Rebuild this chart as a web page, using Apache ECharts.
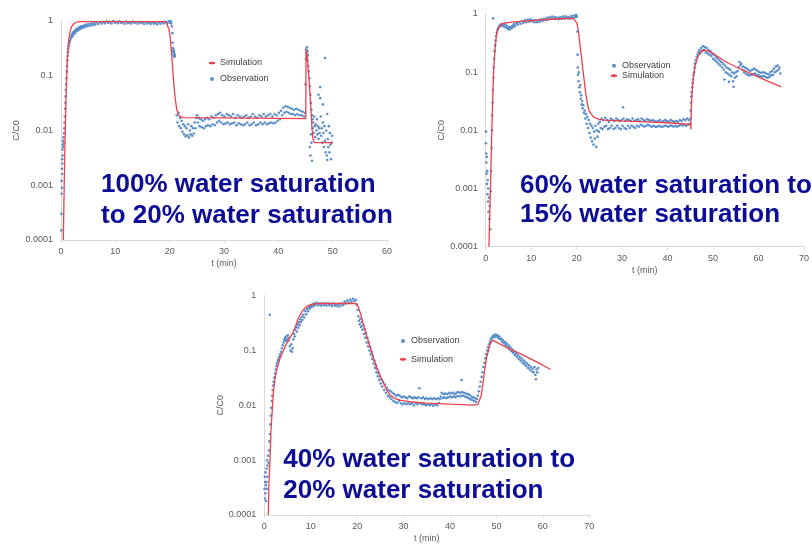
<!DOCTYPE html>
<html>
<head>
<meta charset="utf-8">
<script src="https://cdn.jsdelivr.net/npm/echarts@6/dist/echarts.min.js"></script>
<style>html,body{margin:0;padding:0;background:#fff}#c{width:812px;height:545px}</style>
</head>
<body>
<div id="c"></div>
<script>
// ---------- data ----------
var yTickLabels = ['0.0001', '0.001', '0.01', '0.1', '1'];
var xMax = [60, 70, 70];
var titles = [
  ['100% water saturation', 'to 20% water saturation'],
  ['60% water saturation to', '15% water saturation'],
  ['40% water saturation to', '20% water saturation']
];
var legendOrders = [['Simulation', 'Observation'], ['Observation', 'Simulation'], ['Observation', 'Simulation']];

var sim1 = [[0.43,0.0001],[0.6,0.0012],[0.74,0.006],[0.9,0.03],[1.04,0.096],[1.2,0.22],[1.35,0.4],[1.6,0.6],[1.96,0.79],[2.4,0.9],[2.9,0.95],[3.5,0.97],[10,0.97],[19.3,0.97],[19.6,0.9],[19.9,0.7],[20.1,0.5],[20.4,0.22],[20.7,0.084],[21.0,0.04],[21.3,0.024],[21.6,0.02],[21.9,0.018],[22.5,0.0172],[30,0.017],[45.05,0.0165],[45.1,0.3],[45.4,0.18],[45.7,0.07],[46.0,0.025],[46.2,0.011],[46.4,0.0067],[46.7,0.006],[50,0.006]];

var obs1 = [[0.05,0.00015],[0.08,0.0003],[0.1,0.0007],[0.12,0.0012],[0.15,0.0009],[0.18,0.002],[0.2,0.0016],[0.22,0.003],[0.25,0.0025],[0.28,0.0045],[0.3,0.0035],[0.33,0.0055],[0.36,0.0065],[0.4,0.005],[0.45,0.0075],[0.5,0.006],[0.55,0.009],
[0.6,0.011],[0.65,0.014],[0.7,0.018],[0.75,0.025],[0.8,0.032],[0.85,0.042],[0.9,0.055],[0.95,0.07],[1.0,0.09],[1.05,0.12],[1.1,0.15],[1.15,0.19],[1.2,0.23],[1.28,0.27],[1.35,0.31],[1.45,0.35],[1.55,0.39],[1.65,0.43],[1.75,0.47],[1.85,0.5],[1.95,0.54],[2.05,0.58],[2.1,0.52],[2.25,0.62],[2.35,0.57],[2.5,0.66],[2.6,0.61],[2.75,0.7],[2.85,0.65],[3.0,0.73],[3.15,0.68],[3.3,0.76],[3.45,0.71],[3.6,0.79],[3.75,0.74],[3.9,0.81],[4.05,0.76],[4.25,0.83],[4.45,0.78],[4.65,0.86],[4.85,0.8],[5.05,0.88],[5.3,0.82],[5.55,0.9],[5.8,0.84],[6.05,0.92],[6.3,0.86],[6.6,0.94],[6.9,0.88],[7.2,0.96],[7.5,0.9],
[7.8,0.97],[8.1,0.91],[8.4,0.99],[8.7,0.92],[9.0,0.97],[9.3,0.9],[9.6,1.0],[9.9,0.93],[10.2,0.97],[10.5,0.91],[10.8,0.99],[11.1,0.92],[11.4,0.96],[11.7,0.89],[12.0,0.98],[12.3,0.91],[12.6,0.95],[12.9,0.9],[13.2,0.98],[13.5,0.92],[13.8,0.96],[14.1,0.89],[14.4,0.97],[14.7,0.91],[15.0,0.95],[15.3,0.88],[15.6,0.96],[15.9,0.9],[16.2,0.94],[16.5,0.88],[16.8,0.95],[17.1,0.89],[17.4,0.93],[17.7,0.87],[18.0,0.95],[18.3,0.89],[18.6,0.96],[18.9,0.9],[19.2,0.97],[19.5,0.91],[19.8,0.99],[20.0,0.93],[20.2,1.0],[20.3,0.9],
[20.4,0.8],[20.5,0.6],[20.55,0.4],[20.6,0.32],[20.65,0.27],[20.7,0.3],[20.75,0.24],[20.8,0.28],[20.85,0.22],[20.9,0.25],[20.95,0.23],
[21.3,0.019],[21.45,0.014],[21.6,0.021],[21.75,0.012],[21.9,0.017],[22.05,0.011],[22.2,0.015],[22.35,0.0095],[22.5,0.013],[22.65,0.0085],[22.8,0.012],[22.95,0.0078],[23.1,0.011],[23.25,0.0082],[23.4,0.013],[23.55,0.0075],[23.7,0.01],[23.85,0.0085],[24.0,0.012],[24.15,0.008],[24.3,0.011],[24.45,0.0088],[24.6,0.014],[24.75,0.011],[24.9,0.017],[25.05,0.019],[25.2,0.014],[25.35,0.017],[25.5,0.012],[25.7,0.016],[25.9,0.0115],[26.1,0.015],[26.3,0.011],[26.5,0.016],[26.7,0.012],[26.9,0.017],[27.1,0.0125],[27.3,0.016],[27.5,0.012],[27.7,0.018],[27.9,0.013],[28.1,0.017],[28.3,0.0125],[28.5,0.019],[28.7,0.014],[28.9,0.02],[29.1,0.015],[29.3,0.021],[29.5,0.014],[29.7,0.019],[29.9,0.013],[30.1,0.018],[30.3,0.0135],[30.5,0.02],[30.7,0.014],[30.9,0.019],[31.1,0.013],[31.3,0.018],[31.5,0.0135],[31.7,0.02],[31.9,0.014],[32.1,0.017],[32.3,0.0125],[32.5,0.019],[32.7,0.0135],[32.9,0.018],[33.1,0.013],[33.3,0.017],[33.5,0.0125],[33.7,0.018],[33.9,0.013],[34.1,0.019],[34.3,0.014],[34.5,0.017],[34.7,0.0125],[34.9,0.018],[35.1,0.013],[35.3,0.02],[35.5,0.014],[35.7,0.018],[35.9,0.0125],[36.1,0.017],[36.3,0.013],[36.5,0.019],[36.7,0.014],[36.9,0.018],[37.1,0.013],[37.3,0.02],[37.5,0.014],[37.7,0.018],[37.9,0.013],[38.1,0.019],[38.3,0.0135],[38.5,0.02],[38.7,0.014],[38.9,0.018],[39.1,0.0135],[39.3,0.02],[39.5,0.014],[39.7,0.019],[39.9,0.015],[40.1,0.021],[40.3,0.016],[40.5,0.023],[40.7,0.019],[40.9,0.026],[41.1,0.021],[41.3,0.028],[41.5,0.022],[41.7,0.027],[41.9,0.021],[42.1,0.026],[42.3,0.02],[42.5,0.025],[42.7,0.02],[42.9,0.024],[43.1,0.019],[43.3,0.025],[43.5,0.02],[43.7,0.024],[43.9,0.019],[44.1,0.023],[44.3,0.019],[44.5,0.022],[44.7,0.018],[44.9,0.021],
[45.0,0.07],[45.1,0.2],[45.15,0.3],[45.2,0.26],[45.25,0.33],[45.3,0.22],[45.35,0.28],[45.4,0.19],[45.45,0.24],[45.5,0.15],[45.6,0.12],[45.7,0.09],[45.8,0.065],[45.9,0.045],[46.0,0.032],[46.1,0.024],[46.2,0.019],[46.3,0.016],
[45.8,0.005],[45.9,0.0035],[46.0,0.0085],[46.1,0.006],[46.2,0.0028],[46.3,0.011],[46.4,0.014],[46.5,0.009],[46.6,0.018],[46.7,0.012],[46.8,0.0075],[46.9,0.013],[47.0,0.01],[47.1,0.016],[47.2,0.0085],[47.3,0.012],[47.4,0.007],[47.5,0.011],[47.6,0.009],[47.7,0.039],[47.7,0.062],[47.8,0.018],[47.9,0.008],[48.0,0.011],[48.1,0.006],[48.2,0.014],[48.3,0.009],[48.4,0.005],[48.5,0.012],[48.6,0.21],[48.6,0.0065],[48.7,0.004],[48.8,0.01],[48.9,0.0035],[49.0,0.0029],[49.1,0.007],[49.2,0.005],[49.3,0.012],[49.4,0.004],[49.5,0.009],[49.6,0.0055],[49.7,0.003],[49.8,0.006],[49.9,0.008],[47.4,0.045],[48.2,0.03],[49.0,0.02]];

var sim2 = [[0.71,0.0001],[0.9,0.0004],[1.07,0.0011],[1.25,0.005],[1.43,0.017],[1.6,0.05],[1.79,0.124],[2.0,0.22],[2.36,0.44],[2.8,0.58],[3.43,0.67],[4.2,0.7],[4.86,0.71],[7,0.74],[10,0.77],[15,0.82],[19.3,0.84],[19.7,0.82],[20.1,0.69],[20.4,0.5],[20.7,0.31],[21.0,0.2],[21.3,0.124],[21.6,0.08],[22.0,0.043],[22.4,0.028],[22.7,0.022],[23.2,0.019],[23.8,0.0168],[25,0.0155],[26,0.015],[30,0.0145],[35,0.014],[40,0.0135],[45,0.0127],[45.1,0.0105],[45.2,0.02],[45.3,0.033],[45.5,0.06],[45.7,0.084],[46.0,0.12],[46.4,0.16],[47.0,0.21],[47.7,0.24],[48.3,0.238],[49,0.23],[50,0.21],[51,0.185],[52,0.165],[53,0.148],[55,0.124],[57,0.105],[60,0.082],[62,0.07],[65,0.056]];

var obs2 = [[0.05,0.006],[0.08,0.0095],[0.12,0.004],[0.15,0.0028],[0.2,0.0018],[0.25,0.0035],[0.3,0.0012],[0.35,0.002],[0.4,0.0008],[0.45,0.0014],[0.5,0.0006],[0.55,0.001],[0.6,0.0004],[0.7,0.0007],[0.8,0.0003],[0.9,0.0005],[1.0,0.0002],[1.1,0.0009],[1.2,0.002],[1.3,0.005],[1.38,0.01],[1.45,0.018],[1.52,0.03],[1.6,0.05],[1.64,0.84],
[1.7,0.08],[1.78,0.12],[1.86,0.17],[1.95,0.23],[2.05,0.29],[2.15,0.35],[2.3,0.42],[2.45,0.48],[2.6,0.53],[2.75,0.57],[2.9,0.6],[3.1,0.63],[3.3,0.66],[3.5,0.62],[3.7,0.68],[3.9,0.64],[4.1,0.6],[4.3,0.66],[4.5,0.58],[4.7,0.62],[4.9,0.55],[5.1,0.59],[5.3,0.54],[5.5,0.6],[5.7,0.57],[5.9,0.63],[6.1,0.6],[6.3,0.67],[6.5,0.63],[6.8,0.7],[7.1,0.66],[7.4,0.73],[7.7,0.68],[8.0,0.76],[8.3,0.7],[8.6,0.78],[8.9,0.72],[9.2,0.8],[9.5,0.74],[9.8,0.81],[10.1,0.75],[10.4,0.79],[10.7,0.72],[11.0,0.78],[11.3,0.72],[11.6,0.79],[11.9,0.74],[12.2,0.81],[12.5,0.76],[12.8,0.83],[13.1,0.78],[13.4,0.86],[13.7,0.8],[14.0,0.88],[14.3,0.82],[14.6,0.9],[14.9,0.83],[15.2,0.89],[15.5,0.82],[15.8,0.87],[16.1,0.81],[16.4,0.88],[16.7,0.83],[17.0,0.9],[17.3,0.84],[17.6,0.91],[17.9,0.85],[18.2,0.89],[18.5,0.84],[18.8,0.92],[19.1,0.86],[19.4,0.94],[19.7,0.88],[19.9,0.96],[20.05,0.9],
[20.15,0.5],[20.2,0.2],[20.25,0.12],[20.3,0.09],[20.4,0.07],[20.5,0.1],[20.6,0.055],[20.7,0.045],[20.8,0.06],[20.9,0.035],[21.0,0.04],[21.1,0.028],[21.2,0.032],[21.3,0.024],[21.45,0.027],[21.6,0.02],[21.75,0.022],[21.9,0.016],[22.05,0.019],[22.2,0.013],[22.35,0.017],[22.5,0.011],[22.65,0.015],[22.8,0.009],[22.95,0.013],[23.1,0.0075],[23.25,0.012],[23.4,0.0065],[23.55,0.011],[23.7,0.0057],[23.85,0.0095],[24.0,0.0072],[24.15,0.012],[24.3,0.0052],[24.45,0.01],[24.6,0.0078],[24.75,0.013],
[24.9,0.0095],[25.1,0.014],[25.3,0.011],[25.5,0.016],[25.7,0.0105],[25.9,0.015],[26.1,0.0115],[26.3,0.0165],[26.5,0.012],[26.7,0.015],[26.9,0.0105],[27.1,0.014],[27.3,0.011],[27.5,0.016],[27.7,0.012],[27.9,0.015],[28.1,0.0105],[28.3,0.0145],[28.5,0.011],[28.7,0.016],[28.9,0.012],[29.1,0.015],[29.3,0.011],[29.5,0.0145],[29.7,0.0105],[29.9,0.015],[30.1,0.012],[30.2,0.025],[30.3,0.016],[30.5,0.011],[30.7,0.0145],[30.9,0.0105],[31.1,0.0155],[31.3,0.012],[31.5,0.015],[31.7,0.011],[31.9,0.0145],[32.1,0.012],[32.3,0.016],[32.5,0.0115],[32.7,0.0145],[32.9,0.011],[33.1,0.015],[33.3,0.012],[33.5,0.0155],[33.7,0.0115],[33.9,0.0145],[34.1,0.0125],[34.3,0.016],[34.5,0.012],[34.7,0.015],[34.9,0.0115],[35.1,0.0145],[35.3,0.012],[35.5,0.0155],[35.7,0.0125],[35.9,0.015],[36.1,0.012],[36.3,0.0145],[36.5,0.0115],[36.7,0.015],[36.9,0.012],[37.1,0.0145],[37.3,0.0115],[37.5,0.014],[37.7,0.0115],[37.9,0.0145],[38.1,0.012],[38.3,0.015],[38.5,0.0115],[38.7,0.014],[38.9,0.0115],[39.1,0.0145],[39.3,0.012],[39.5,0.015],[39.7,0.012],[39.9,0.0145],[40.1,0.0115],[40.3,0.014],[40.5,0.012],[40.7,0.015],[40.9,0.012],[41.1,0.0145],[41.3,0.0115],[41.5,0.014],[41.7,0.012],[41.9,0.0145],[42.1,0.0115],[42.3,0.014],[42.5,0.012],[42.7,0.015],[42.9,0.0125],[43.1,0.0145],[43.3,0.012],[43.5,0.0155],[43.7,0.0125],[43.9,0.015],[44.1,0.012],[44.3,0.016],[44.5,0.0125],[44.7,0.015],[44.9,0.013],
[45.05,0.016],[45.1,0.022],[45.15,0.03],[45.2,0.038],[45.3,0.045],[45.4,0.055],[45.5,0.065],[45.6,0.075],[45.7,0.09],[45.8,0.1],[45.9,0.12],[46.0,0.14],[46.2,0.16],[46.4,0.18],[46.6,0.2],[46.8,0.22],[47.0,0.24],[47.2,0.21],[47.4,0.26],[47.6,0.23],[47.8,0.28],[48.0,0.24],[48.2,0.27],[48.4,0.22],[48.6,0.26],[48.8,0.21],[49.0,0.24],[49.2,0.2],[49.4,0.23],[49.6,0.19],[49.8,0.21],[50.0,0.17],[50.2,0.2],[50.4,0.16],[50.6,0.18],[50.8,0.15],[51.0,0.17],[51.2,0.14],[51.4,0.16],[51.6,0.13],[51.8,0.15],[52.0,0.12],[52.2,0.14],[52.4,0.11],[52.5,0.075],[52.6,0.13],[52.8,0.1],[53.0,0.12],[53.2,0.095],[53.4,0.115],[53.5,0.068],[53.6,0.09],[53.8,0.11],[54.0,0.085],[54.2,0.1],[54.4,0.07],[54.5,0.056],[54.6,0.095],[54.8,0.08],[55.0,0.1],[55.2,0.085],[55.4,0.105],[55.6,0.12],[55.8,0.15],[56.0,0.13],[56.2,0.14],[56.4,0.11],[56.6,0.125],[56.8,0.1],[57.0,0.12],[57.2,0.095],[57.4,0.115],[57.6,0.09],[57.8,0.11],[58.0,0.088],[58.2,0.105],[58.4,0.09],[58.6,0.11],[58.8,0.092],[59.0,0.115],[59.2,0.095],[59.4,0.11],[59.6,0.09],[59.8,0.105],[60.0,0.088],[60.2,0.1],[60.4,0.085],[60.6,0.098],[60.8,0.084],[61.0,0.1],[61.2,0.086],[61.4,0.098],[61.6,0.082],[61.8,0.094],[62.0,0.08],[62.2,0.092],[62.4,0.083],[62.6,0.1],[62.8,0.088],[63.0,0.105],[63.2,0.09],[63.4,0.115],[63.6,0.1],[63.8,0.125],[64.0,0.105],[64.2,0.13],[64.4,0.11],[64.6,0.12],[64.8,0.095]];

var sim3 = [[0.86,0.0001],[1.0,0.0004],[1.23,0.001],[1.4,0.003],[1.58,0.0054],[1.94,0.0165],[2.3,0.03],[2.66,0.044],[3.38,0.072],[4.1,0.1],[4.83,0.135],[5.5,0.17],[6.25,0.22],[6.8,0.29],[7.32,0.387],[8.0,0.49],[8.4,0.55],[9.0,0.62],[9.8,0.68],[11,0.71],[12,0.725],[16,0.72],[19.6,0.72],[20.25,0.63],[20.8,0.45],[21.3,0.31],[22.0,0.19],[22.8,0.117],[23.5,0.075],[24.2,0.05],[25.0,0.034],[25.7,0.025],[26.4,0.019],[27.1,0.0154],[28,0.0135],[29.2,0.0125],[32,0.0115],[35,0.011],[40,0.0105],[45,0.0101],[46,0.0104],[46.3,0.011],[46.7,0.015],[47.0,0.022],[47.4,0.04],[47.9,0.077],[48.3,0.1],[48.6,0.13],[49.2,0.155],[50,0.142],[52,0.115],[55,0.089],[58,0.066],[60,0.054],[61.7,0.045]];

var obs3 = [[0.05,0.0003],[0.1,0.0005],[0.15,0.0002],[0.2,0.0004],[0.25,0.00025],[0.3,0.0006],[0.35,0.00035],[0.4,0.00018],[0.45,0.0004],[0.5,0.0007],[0.55,0.0003],[0.6,0.001],[0.65,0.0005],[0.7,0.0008],[0.8,0.0012],[0.9,0.0009],
[1.0,0.0015],[1.1,0.0022],[1.2,0.45],[1.2,0.003],[1.3,0.0045],[1.4,0.0065],[1.5,0.009],[1.6,0.012],[1.7,0.015],[1.8,0.019],[1.9,0.023],[2.0,0.027],[2.15,0.032],[2.3,0.038],[2.45,0.045],[2.6,0.052],[2.75,0.058],[2.9,0.064],[3.05,0.07],[3.2,0.077],[3.4,0.085],[3.6,0.095],[3.8,0.11],[4.0,0.125],[4.15,0.14],[4.3,0.155],[4.45,0.17],[4.6,0.15],[4.75,0.18],[4.9,0.16],[5.05,0.19],[5.2,0.15],[5.35,0.17],[5.5,0.12],[5.65,0.1],[5.8,0.13],[5.95,0.095],[6.1,0.11],[6.25,0.16],[6.4,0.2],[6.55,0.18],[6.7,0.24],[6.85,0.27],[7.0,0.22],[7.15,0.3],[7.3,0.26],[7.45,0.33],[7.6,0.29],[7.75,0.37],[7.9,0.33],[8.05,0.41],[8.2,0.36],[8.4,0.45],[8.6,0.4],[8.8,0.52],[9.0,0.46],[9.2,0.57],[9.4,0.52],[9.6,0.62],[9.8,0.58],[10.0,0.66],[10.2,0.62],[10.4,0.7],[10.6,0.65],[10.8,0.73],[11.0,0.68],[11.3,0.74],[11.6,0.67],[11.9,0.72],[12.2,0.66],[12.5,0.73],[12.8,0.67],[13.1,0.72],[13.4,0.66],[13.7,0.73],[14.0,0.67],[14.3,0.71],[14.6,0.65],[14.9,0.72],[15.2,0.66],[15.5,0.7],[15.8,0.64],[16.1,0.71],[16.4,0.65],[16.7,0.72],[17.0,0.68],[17.3,0.78],[17.6,0.72],[17.9,0.82],[18.2,0.75],[18.5,0.85],[18.8,0.78],[19.1,0.88],[19.4,0.8],[19.7,0.84],
[19.9,0.7],[20.1,0.55],[20.25,0.42],[20.4,0.35],[20.55,0.3],[20.7,0.38],[20.85,0.27],[21.0,0.33],[21.15,0.24],[21.3,0.29],[21.45,0.2],[21.6,0.25],[21.75,0.17],[21.9,0.21],[22.05,0.14],[22.2,0.17],[22.35,0.12],[22.5,0.14],[22.65,0.1],[22.8,0.115],[22.95,0.085],[23.1,0.095],[23.25,0.07],[23.4,0.078],[23.55,0.058],[23.7,0.065],[23.85,0.048],[24.0,0.054],[24.15,0.04],[24.3,0.046],[24.45,0.034],[24.6,0.039],[24.75,0.029],[24.9,0.034],[25.05,0.025],[25.2,0.03],[25.4,0.022],[25.6,0.027],[25.8,0.019],[26.0,0.024],[26.2,0.017],[26.4,0.021],[26.6,0.015],[26.8,0.019],[27.0,0.014],[27.2,0.018],[27.4,0.013],[27.6,0.017],[27.8,0.012],[28.0,0.016],[28.2,0.0115],[28.4,0.015],[28.6,0.011],[28.8,0.0155],
[29.0,0.012],[29.2,0.015],[29.4,0.011],[29.6,0.014],[29.8,0.0105],[30.0,0.0145],[30.2,0.011],[30.4,0.014],[30.6,0.0105],[30.8,0.0135],[31.0,0.011],[31.2,0.0145],[31.4,0.0105],[31.6,0.014],[31.8,0.011],[32.0,0.0135],[32.2,0.01],[32.4,0.014],[32.6,0.011],[32.8,0.0135],[33.0,0.0105],[33.2,0.014],[33.4,0.0205],[33.6,0.011],[33.8,0.0135],[34.0,0.0105],[34.2,0.014],[34.4,0.0105],[34.6,0.013],[34.8,0.01],[35.0,0.0135],[35.2,0.0105],[35.4,0.013],[35.6,0.01],[35.8,0.0135],[36.0,0.0105],[36.2,0.013],[36.4,0.0098],[36.6,0.0135],[36.8,0.0105],[37.0,0.013],[37.2,0.01],[37.4,0.0135],[37.6,0.011],[37.8,0.013],
[38.0,0.0145],[38.2,0.017],[38.4,0.0135],[38.6,0.016],[38.8,0.014],[39.0,0.0165],[39.2,0.0135],[39.4,0.016],[39.6,0.014],[39.8,0.017],[40.0,0.0145],[40.2,0.0165],[40.4,0.014],[40.6,0.017],[40.8,0.0145],[41.0,0.016],[41.2,0.014],[41.4,0.017],[41.6,0.015],[41.8,0.0175],[42.0,0.0145],[42.2,0.017],[42.4,0.015],[42.5,0.029],[42.6,0.0175],[42.8,0.015],[43.0,0.017],[43.2,0.0145],[43.4,0.0165],[43.6,0.014],[43.8,0.016],[44.0,0.0135],[44.2,0.0155],[44.4,0.013],[44.6,0.0145],[44.8,0.0125],[45.0,0.014],[45.2,0.012],[45.4,0.0135],[45.6,0.0115],[45.8,0.013],
[46.0,0.015],[46.2,0.018],[46.4,0.022],[46.6,0.027],[46.8,0.033],[47.0,0.04],[47.2,0.05],[47.4,0.06],[47.6,0.072],[47.8,0.085],[48.0,0.1],[48.2,0.115],[48.4,0.13],[48.6,0.145],[48.8,0.16],[49.0,0.17],[49.2,0.18],[49.4,0.19],[49.6,0.175],[49.8,0.195],[50.0,0.18],[50.2,0.19],[50.4,0.17],[50.6,0.18],[50.8,0.16],[51.0,0.165],[51.2,0.145],[51.4,0.155],[51.6,0.135],[51.8,0.145],[52.0,0.125],[52.2,0.135],[52.4,0.115],[52.6,0.125],[52.8,0.105],[53.0,0.115],[53.2,0.097],[53.4,0.105],[53.6,0.09],[53.8,0.097],[54.0,0.083],[54.2,0.09],[54.4,0.077],[54.6,0.083],[54.8,0.07],[55.0,0.077],[55.2,0.065],[55.4,0.072],[55.6,0.06],[55.8,0.066],[56.0,0.056],[56.2,0.062],[56.4,0.052],[56.6,0.058],[56.8,0.048],[57.0,0.054],[57.2,0.045],[57.4,0.05],[57.6,0.042],[57.8,0.047],[58.0,0.04],[58.2,0.05],[58.4,0.036],[58.5,0.03],[58.6,0.045],[58.8,0.04],[59.0,0.048]];

var obsData = [obs1, obs2, obs3];
var simData = [sim1, sim2, sim3];

// ---------- layout ----------
var grids = [
  {left: 61, top: 21, width: 326, height: 219},
  {left: 485.7, top: 14, width: 326.7, height: 232.7},
  {left: 264.3, top: 295.7, width: 325, height: 219.3}
];
var yNameGap = [40, 40, 38];
var legendPos = [
  {left: 208, top: 58, itemGap: 6},
  {left: 610, top: 60.7, itemGap: 0},
  {left: 399, top: 336, itemGap: 8.3}
];
var titlePos = [
  {x: 101, y1: 187, y2: 218},
  {x: 520, y1: 187.7, y2: 216.7},
  {x: 283.3, y1: 462.3, y2: 493.3}
];

var LABEL = '#595959', AXIS = '#d9d9d9', FONT = '"Liberation Sans", Arial, sans-serif';
var OBS_COLOR = '#4a84c4', SIM_COLOR = '#ee3f4b', TITLE_COLOR = '#0c0c96';

var xAxes = [], yAxes = [], series = [], legends = [], graphics = [];
for (var i = 0; i < 3; i++) {
  xAxes.push({
    gridIndex: i, type: 'value', min: 0, max: xMax[i], interval: 10,
    name: 't (min)', nameLocation: 'middle', nameGap: 19,
    nameTextStyle: {color: LABEL, fontSize: 9, fontFamily: FONT},
    axisLine: {show: true, lineStyle: {color: AXIS, width: 1}},
    axisTick: {show: true, length: 3, lineStyle: {color: AXIS}},
    axisLabel: {color: LABEL, fontSize: 9, fontFamily: FONT, margin: 7},
    splitLine: {show: false}
  });
  yAxes.push({
    gridIndex: i, type: 'log', logBase: 10, min: 0.0001, max: 1,
    name: 'C/C0', nameLocation: 'middle', nameGap: yNameGap[i],
    nameTextStyle: {color: LABEL, fontSize: 9, fontFamily: FONT},
    axisLine: {show: true, lineStyle: {color: AXIS, width: 1}},
    axisTick: {show: false},
    axisLabel: {color: LABEL, fontSize: 9, fontFamily: FONT, margin: 8,
      formatter: function (v) { var k = Math.round(Math.log(v) / Math.LN10) + 4; return yTickLabels[k] || ''; }},
    splitLine: {show: false}
  });
  series.push({
    name: 'Observation', type: 'scatter', xAxisIndex: i, yAxisIndex: i,
    data: obsData[i], symbol: 'circle', symbolSize: 2.6,
    itemStyle: {color: OBS_COLOR, opacity: 0.9}, silent: true, z: 2
  });
  series.push({
    name: 'Simulation', type: 'line', xAxisIndex: i, yAxisIndex: i,
    data: simData[i], symbol: 'none', showSymbol: false,
    lineStyle: {color: SIM_COLOR, width: 1.3}, itemStyle: {color: SIM_COLOR},
    silent: true, z: 3
  });
  legends.push({
    orient: 'vertical', left: legendPos[i].left, top: legendPos[i].top,
    itemGap: legendPos[i].itemGap, padding: 0, itemWidth: 6, itemHeight: 4,
    selectedMode: false, data: legendOrders[i],
    textStyle: {color: '#404040', fontSize: 9, fontFamily: FONT, lineHeight: 10}
  });
  graphics.push({type: 'text', left: titlePos[i].x, top: titlePos[i].y1 - 15, z: 10,
    style: {text: titles[i][0], font: 'bold 26px ' + FONT, fill: TITLE_COLOR}});
  graphics.push({type: 'text', left: titlePos[i].x, top: titlePos[i].y2 - 15, z: 10,
    style: {text: titles[i][1], font: 'bold 26px ' + FONT, fill: TITLE_COLOR}});
}

var chart = echarts.init(document.getElementById('c'), null, {renderer: 'canvas'});
chart.setOption({
  backgroundColor: '#ffffff',
  animation: false,
  grid: grids,
  xAxis: xAxes,
  yAxis: yAxes,
  legend: legends,
  series: series,
  graphic: graphics
});
</script>
</body>
</html>
